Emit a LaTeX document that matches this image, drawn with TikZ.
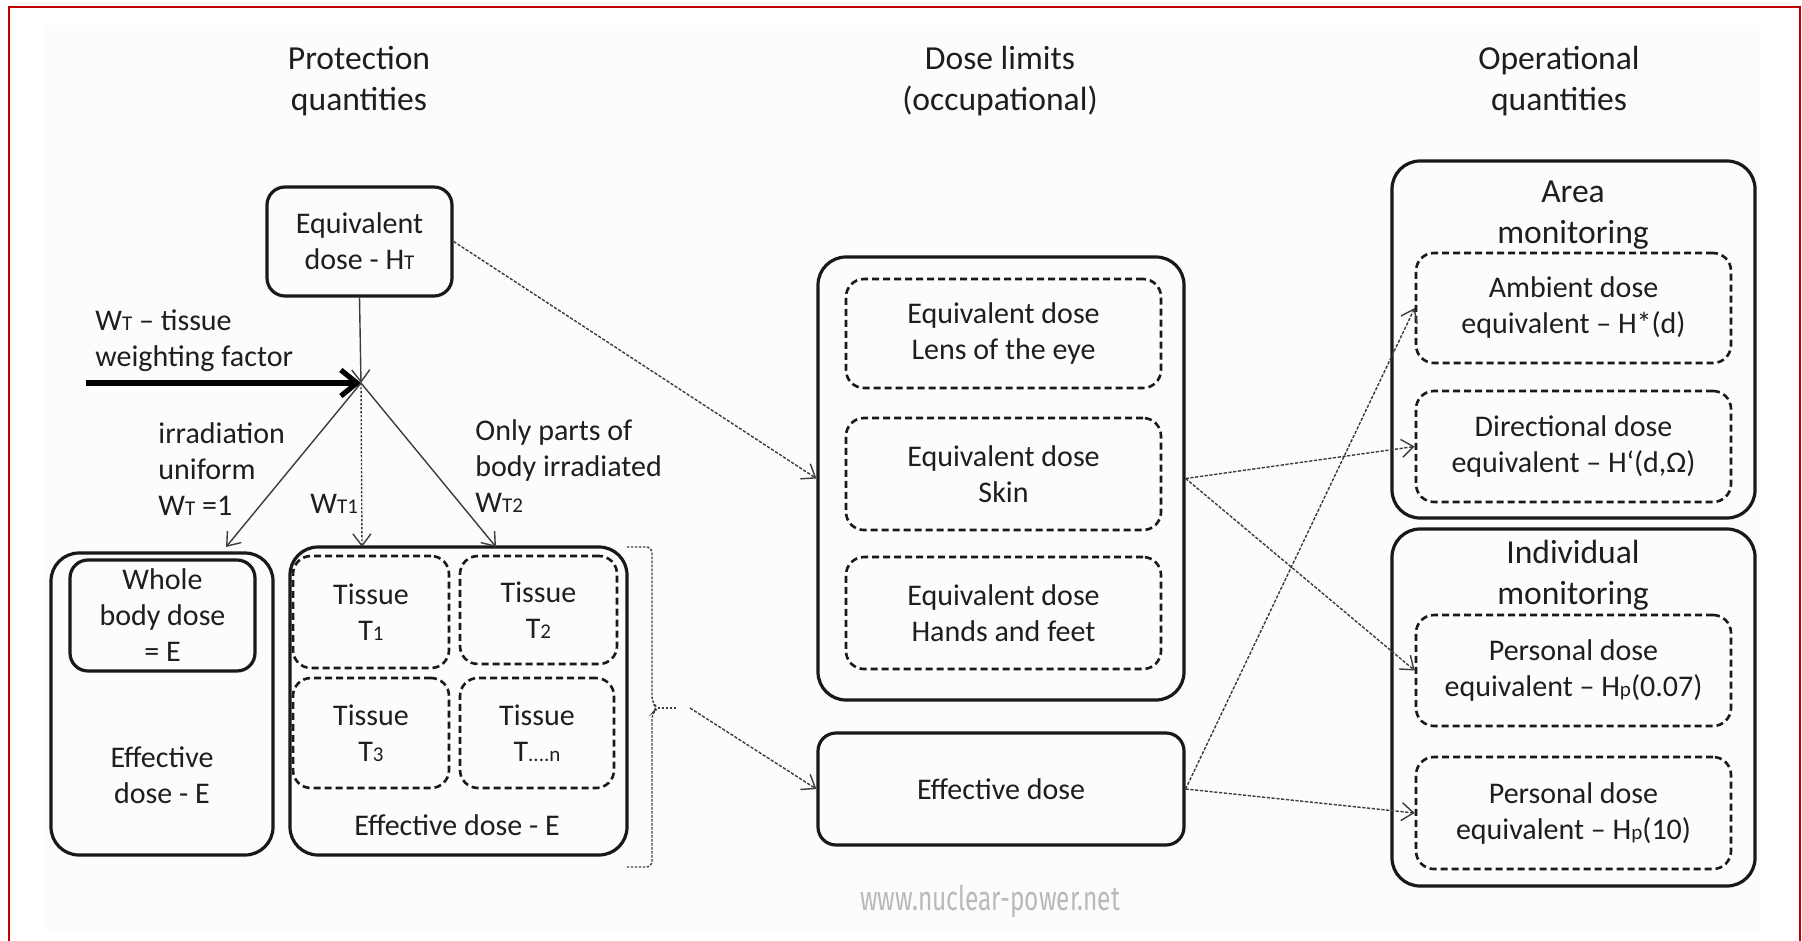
\documentclass[tikz,border=0pt]{standalone}
\usepackage{fontspec}
\usepackage{graphicx}
\setmainfont{Carlito}
\newfontfamily\wmfont{Fira Sans}
\usetikzlibrary{arrows.meta,calc}
\definecolor{txt}{HTML}{1E1E1E}
\definecolor{redb}{HTML}{C00000}
\definecolor{ln}{HTML}{3C3C3C}
\newcommand\lowsub[1]{{\fontsize{10.5pt}{10.5pt}\selectfont #1}}
\begin{document}
\begin{tikzpicture}[x=0.5pt,y=-0.5pt,
  every node/.style={text=txt, font=\fontsize{15pt}{18pt}\selectfont, align=center, inner sep=0pt},
  solidbox/.style={draw=black!90, line width=1.6pt, rounded corners=9pt},
  bigbox/.style={draw=black!90, line width=1.6pt, rounded corners=14pt},
  dashbox/.style={draw=black!90, line width=1.3pt, dash pattern=on 3.5pt off 2pt, rounded corners=9pt},
  title/.style={font=\fontsize{16.8pt}{20.5pt}\selectfont},
  thinarrow/.style={draw=ln, line width=0.7pt, -{Straight Barb[length=6pt,width=9pt]}},
  conn/.style={draw=ln, line width=0.7pt, dash pattern=on 1.6pt off 0.8pt, -{Straight Barb[length=6pt,width=9pt]}},
  thickarrow/.style={draw=black, line width=2.6pt, -{Straight Barb[length=8pt,width=13pt]}},
  braceline/.style={draw=ln, line width=0.7pt, dash pattern=on 1.2pt off 0.8pt},
]
\useasboundingbox (0,0) rectangle (1802,941);
\fill[gray!2] (43,25) rectangle (1760,930);
\draw[redb, line width=1pt] (9,945) -- (9,7) -- (1800,7) -- (1800,945);

% titles
\node[title] (t1) at (359,81) {Protection\\quantities};
\node[title] (t2) at (1000,81) {Dose limits\\(occupational)};
\node[title] (t3) at (1559,81) {Operational\\quantities};

% left column
\node[solidbox, minimum width=92.5pt, minimum height=54.5pt] (eqht) at (359.5,241.5) {Equivalent\\dose - H\lowsub{T}};
\coordinate (J) at (361,383);
\coordinate (wstart) at (86,383);
\node[anchor=west, align=left] (wlab) at (95,341) {W\lowsub{T} -- tissue\\weighting factor};

\node[bigbox, minimum width=111pt, minimum height=151pt] (wbout) at (162,704) {};
\node[solidbox, minimum width=92.5pt, minimum height=55.5pt] (wbin) at (162.5,615.5) {Whole\\body dose\\= E};
\node (wbeff) at (162,775) {Effective\\dose - E};

\node[bigbox, minimum width=168.5pt, minimum height=154pt] (tisout) at (458.5,701) {};
\node[dashbox, minimum width=78pt, minimum height=56pt] (t1b) at (371,612) {Tissue\\T\lowsub{1}};
\node[dashbox, minimum width=78.5pt, minimum height=54pt] (t2b) at (538.5,610) {Tissue\\T\lowsub{2}};
\node[dashbox, minimum width=78pt, minimum height=55pt] (t3b) at (371,733) {Tissue\\T\lowsub{3}};
\node[dashbox, minimum width=77pt, minimum height=55pt] (tnb) at (537,733) {Tissue\\T\lowsub{....n}};
\node (tiseff) at (457,825) {Effective dose - E};

\node[anchor=west, align=left] (irr) at (158,469) {irradiation\\uniform\\W\lowsub{T} =1};
\node[anchor=west] (wt1) at (310,504) {W\lowsub{T1}};
\node[anchor=west, align=left] (onl) at (475,466) {Only parts of\\body irradiated\\W\lowsub{T2}};

\coordinate (aL) at (226,547);
\coordinate (aM) at (362,547);
\coordinate (aR) at (496,547);
\draw[thinarrow] (eqht.south) -- (J);
\draw[thickarrow] (wstart) -- (J);
\draw[thinarrow] (J) -- (aL);
\draw[thinarrow, dash pattern=on 1.2pt off 0.8pt] (J) -- (aM);
\draw[thinarrow] (J) -- (aR);

% middle column
\node[bigbox, minimum width=183pt, minimum height=221.5pt] (dl) at (1001,478.5) {};
\node[dashbox, minimum width=157.5pt, minimum height=54.5pt] (lens) at (1003.5,333.5) {Equivalent dose\\Lens of the eye};
\node[dashbox, minimum width=157.5pt, minimum height=56pt] (skin) at (1003.5,474) {Equivalent dose\\Skin};
\node[dashbox, minimum width=157.5pt, minimum height=56pt] (hands) at (1003.5,613) {Equivalent dose\\Hands and feet};
\node[solidbox, minimum width=183pt, minimum height=56pt] (effd) at (1001,789) {Effective dose};

% right column
\node[bigbox, minimum width=181.5pt, minimum height=178.5pt] (area) at (1573.5,339.5) {};
\node[title] (arealab) at (1573,215) {Area\\monitoring};
\node[dashbox, minimum width=157.5pt, minimum height=55pt] (amb) at (1573.5,308) {Ambient dose\\equivalent -- H*(d)};
\node[dashbox, minimum width=157.5pt, minimum height=55.5pt] (dir) at (1573.5,446.5) {Directional dose\\equivalent -- H‘(d,Ω)};
\node[bigbox, minimum width=181.5pt, minimum height=178.5pt] (indiv) at (1573.5,707.5) {};
\node[title] (indlab) at (1573,575) {Individual\\monitoring};
\node[dashbox, minimum width=157.5pt, minimum height=55.5pt] (p007) at (1573.5,670.5) {Personal dose\\equivalent -- H\lowsub{p}(0.07)};
\node[dashbox, minimum width=157.5pt, minimum height=56pt] (p10) at (1573.5,813) {Personal dose\\equivalent -- H\lowsub{p}(10)};

% connectors
\draw[conn] (eqht.east) -- (dl.west);
\draw[conn] (dl.east) -- (dir.west);
\draw[conn] (dl.east) -- (p007.west);
\draw[conn] (effd.east) -- (amb.west);
\draw[conn] (effd.east) -- (p10.west);

% brace
\coordinate (brtop) at (627,547);
\coordinate (brbot) at (627,867);
\coordinate (brtip) at (658,708);
\coordinate (brend) at (677,708);
\coordinate (brout) at (690,708);
\draw[braceline, rounded corners=3pt] (brtop) -- (652,547) -- (652,703) -- (brtip) -- (652,713) -- (652,867) -- (brbot);
\draw[braceline] (brtip) -- (brend);
\draw[conn] (brout) -- (effd.west);

% watermark
\node[font=\wmfont\fontsize{17pt}{17pt}\selectfont, text=gray!55] (wm) at (990,901) {\scalebox{0.72}[1]{www.nuclear-power.net}};
\end{tikzpicture}
\end{document}
